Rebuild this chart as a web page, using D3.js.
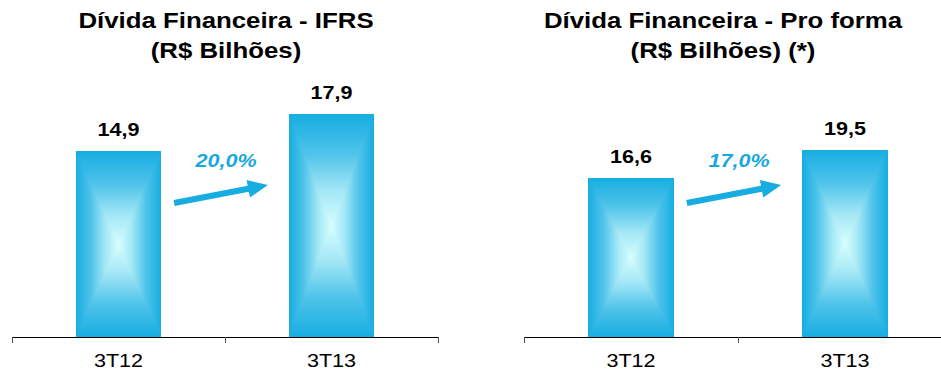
<!DOCTYPE html>
<html>
<head>
<meta charset="utf-8">
<script src="https://cdn.jsdelivr.net/npm/d3@7"></script>
<style>
  body { margin: 0; background: #fff; }
  svg { font-family: "Liberation Sans", Arial, sans-serif; }
</style>
</head>
<body>
<div id="chart"></div>
<script>
// data
const categories = ["3T12", "3T13"];
const ifrsValues = [14.9, 17.9];
const proFormaValues = [16.6, 19.5];
const growthLabels = ["20,0%", "17,0%"];
const titleLines = [
  ["Dívida Financeira - IFRS", "(R$ Bilhões)"],
  ["Dívida Financeira - Pro forma", "(R$ Bilhões) (*)"]
];

const width = 941, height = 372;
const blue = "#17ade1";
const light = "#d6fefe";
const stretch = 1.2; // the original text is a bit wider than Arial

const svg = d3.select("#chart").append("svg")
  .attr("width", width)
  .attr("height", height);

// gradients for the "from center" bar fill (4 triangles)
const defs = svg.append("defs");
const grads = {
  top: [0, 0, 0, 1],
  bottom: [0, 1, 0, 0],
  left: [0, 0, 1, 0],
  right: [1, 0, 0, 0]
};
Object.keys(grads).forEach(k => {
  const g = defs.append("linearGradient")
    .attr("id", "g-" + k)
    .attr("x1", grads[k][0]).attr("y1", grads[k][1])
    .attr("x2", grads[k][2]).attr("y2", grads[k][3]);
  g.append("stop").attr("offset", 0).attr("stop-color", blue);
  g.append("stop").attr("offset", 0.35).attr("stop-color", "#4ec3ea");
  g.append("stop").attr("offset", 0.7).attr("stop-color", "#a6e8f6");
  g.append("stop").attr("offset", 1).attr("stop-color", light);
});

function addText(g, x, y, txt, size, opts = {}) {
  return g.append("text")
    .attr("transform", `translate(${x},${y}) scale(${stretch},1)`)
    .attr("text-anchor", "middle")
    .attr("font-size", size)
    .attr("font-weight", opts.weight || "normal")
    .attr("font-style", opts.style || "normal")
    .attr("fill", opts.fill || "#000")
    .text(txt);
}

const panels = [
  { values: ifrsValues, x0: 12, x1: 438, yMax: 20, yTop: 88, titleX: 226, axisEnd: 438 },
  { values: proFormaValues, x0: 524, x1: 952, yMax: 25, yTop: 97, titleX: 723, axisEnd: 941 }
];
const baseY = 337;

panels.forEach((p, pi) => {
  const g = svg.append("g");

  const x = d3.scaleBand()
    .domain(categories)
    .range([p.x0, p.x1])
    .paddingInner(0.6)
    .paddingOuter(0.3);

  const y = d3.scaleLinear()
    .domain([0, p.yMax])
    .range([baseY, p.yTop]);

  // title
  titleLines[pi].forEach((t, i) => {
    addText(g, p.titleX, 28 + i * 30, t, 21.5, { weight: "bold" });
  });

  // bars
  p.values.forEach((v, i) => {
    const bx = x(categories[i]);
    const bw = x.bandwidth();
    const by = y(v);
    const bh = baseY - by;
    const cx = bx + bw / 2, cy = by + bh / 2;
    const bar = g.append("g");
    const tris = [
      ["top", [[bx, by], [bx + bw, by], [cx, cy]]],
      ["bottom", [[bx, by + bh], [bx + bw, by + bh], [cx, cy]]],
      ["left", [[bx, by], [bx, by + bh], [cx, cy]]],
      ["right", [[bx + bw, by], [bx + bw, by + bh], [cx, cy]]]
    ];
    tris.forEach(([k, pts]) => {
      bar.append("path")
        .attr("d", "M" + pts.map(q => q.join(",")).join("L") + "Z")
        .attr("fill", "url(#g-" + k + ")")
        .attr("shape-rendering", "crispEdges");
    });

    addText(g, cx, by - 15, d3.format(".1f")(v).replace(".", ","), 18, { weight: "bold" });
  });

  // axis
  g.append("line")
    .attr("x1", p.x0).attr("x2", p.axisEnd)
    .attr("y1", baseY + 0.5).attr("y2", baseY + 0.5)
    .attr("stroke", "#000").attr("stroke-width", 1);
  const tickXs = [p.x0, (p.x0 + p.x1) / 2, p.x1].filter(t => t <= width);
  g.selectAll(".tick")
    .data(tickXs)
    .join("line")
    .attr("x1", d => Math.round(d) + 0.5).attr("x2", d => Math.round(d) + 0.5)
    .attr("y1", baseY).attr("y2", baseY + 6)
    .attr("stroke", "#555");
  categories.forEach(c => {
    addText(g, x(c) + x.bandwidth() / 2, 367, c, 18);
  });

  // growth arrow between bars
  const ax1 = x(categories[0]) + x.bandwidth() + 13;
  const ax2 = x(categories[1]) - 21;
  const ay1 = 203, ay2 = 185;
  const ang = Math.atan2(ay2 - ay1, ax2 - ax1);
  const headLen = 20, headW = 9, shaft = 3;
  const ux = Math.cos(ang), uy = Math.sin(ang);
  const nx = -uy, ny = ux;
  const bxh = ax2 - ux * headLen, byh = ay2 - uy * headLen;
  const arrowPts = [
    [ax1 + nx * shaft, ay1 + ny * shaft],
    [bxh + nx * shaft, byh + ny * shaft],
    [bxh + nx * headW, byh + ny * headW],
    [ax2, ay2],
    [bxh - nx * headW, byh - ny * headW],
    [bxh - nx * shaft, byh - ny * shaft],
    [ax1 - nx * shaft, ay1 - ny * shaft]
  ];
  g.append("path")
    .attr("d", d3.line()(arrowPts) + "Z")
    .attr("fill", blue);

  addText(g, (ax1 + ax2) / 2 + 5, 167, growthLabels[pi], 18,
    { weight: "bold", style: "italic", fill: "#1aa8dc" });
});
</script>
</body>
</html>
